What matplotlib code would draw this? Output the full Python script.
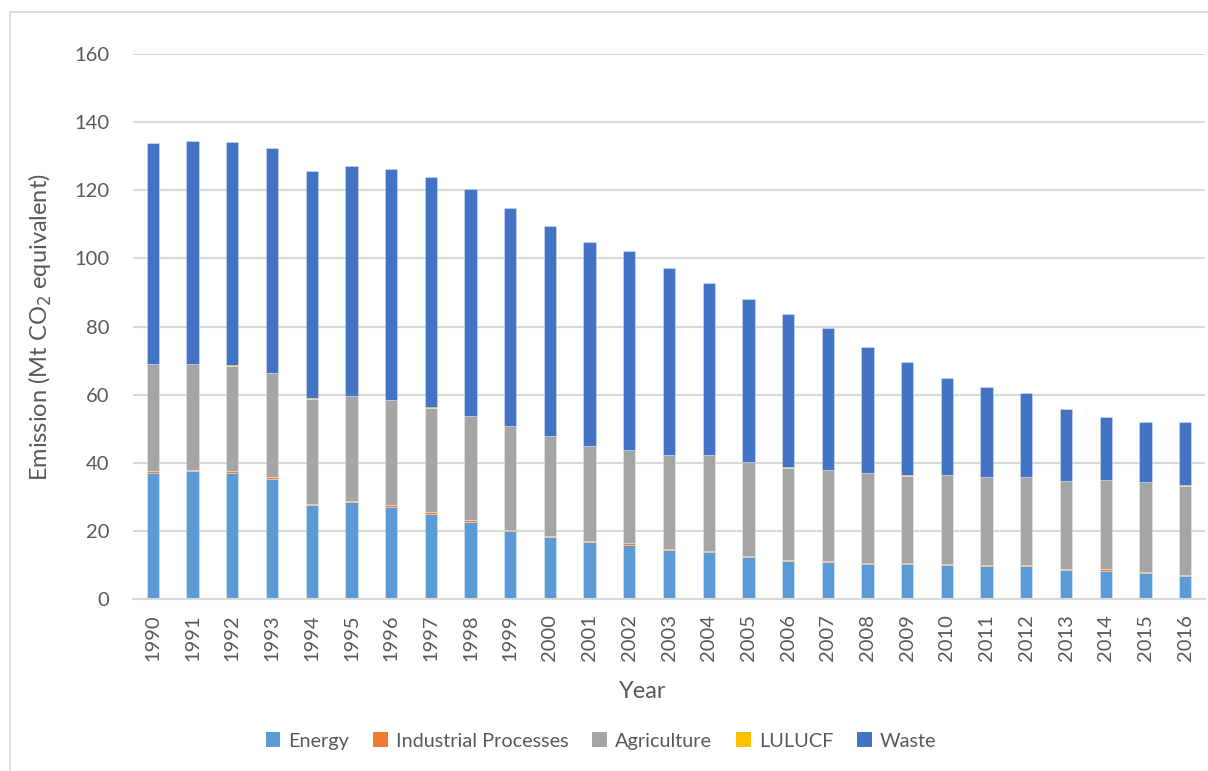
import matplotlib
matplotlib.use("Agg")
import matplotlib.pyplot as plt
import numpy as np
from matplotlib.patches import Rectangle, Patch

plt.rcParams['font.family'] = ['Lato', 'DejaVu Sans']

years = [str(y) for y in range(1990, 2017)]

energy = [37.1, 37.6, 37.1, 35.3, 27.6, 28.5, 27.1, 25.1, 22.7, 20.0,
          18.1, 16.8, 15.9, 14.4, 13.9, 12.2, 11.1, 10.9, 10.4, 10.3,
          10.0, 9.7, 9.6, 8.6, 8.3, 7.7, 6.8]
industrial = [0.4, 0.4, 0.4, 0.6, 0.4, 0.4, 0.6, 0.4, 0.4, 0.3,
              0.3, 0.3, 0.5, 0.3, 0.3, 0.3, 0.3, 0.3, 0.3, 0.3,
              0.3, 0.3, 0.3, 0.3, 0.5, 0.3, 0.3]
agriculture = [31.5, 31.0, 31.0, 30.4, 30.8, 30.7, 30.7, 30.7, 30.6, 30.5,
               29.4, 27.8, 27.2, 27.5, 28.0, 27.7, 27.2, 26.7, 26.2, 25.6,
               26.0, 25.7, 25.8, 25.7, 26.0, 26.3, 26.2]
lulucf = [0.1, 0.1, 0.1, 0.1, 0.3, 0.1, 0.1, 0.1, 0.1, 0.1,
          0.1, 0.1, 0.1, 0.1, 0.1, 0.1, 0.1, 0.1, 0.1, 0.3,
          0.1, 0.1, 0.1, 0.1, 0.1, 0.1, 0.1]
waste = [64.7, 65.5, 65.7, 66.1, 66.5, 67.4, 67.8, 67.7, 66.5, 63.9,
         61.7, 59.8, 58.6, 54.8, 50.5, 47.8, 44.9, 41.6, 37.0, 33.1,
         28.5, 26.5, 24.7, 21.2, 18.5, 17.5, 18.5]

series = [
    ("Energy", energy, "#5B9BD5"),
    ("Industrial Processes", industrial, "#ED7D31"),
    ("Agriculture", agriculture, "#A5A5A5"),
    ("LULUCF", lulucf, "#FFC000"),
    ("Waste", waste, "#4472C4"),
]

W, H = 1208, 771
fig = plt.figure(figsize=(W / 100, H / 100), dpi=100)
fig.patch.set_facecolor("white")

# chart-area frame
fig.patches.append(Rectangle((10 / W, -0.05), 1.1, 1 - 12 / H + 0.05,
                             transform=fig.transFigure, fill=False,
                             edgecolor="#d9d9d9", linewidth=1.3))

ax = fig.add_axes([133 / W, 1 - 599 / H, (1205 - 133) / W, (599 - 54) / H])

x = np.arange(len(years))
bottom = np.zeros(len(years))
for name, vals, color in series:
    vals = np.array(vals)
    ax.bar(x, vals, width=0.31, bottom=bottom, color=color,
           edgecolor=(1, 1, 1, 0.3), linewidth=0.7, label=name, zorder=3)
    bottom += vals

ax.set_xlim(-0.5, len(years) - 0.5)
ax.set_ylim(0, 160)
ax.set_yticks(np.arange(0, 161, 20))
ax.yaxis.grid(True, color="#d9d9d9", linewidth=1.5, zorder=0)
ax.set_axisbelow(True)
for s in ["top", "right", "left"]:
    ax.spines[s].set_visible(False)
ax.spines["bottom"].set_color("#d9d9d9")
ax.spines["bottom"].set_linewidth(1.5)
ax.spines["bottom"].set_zorder(4)

ax.set_xticks(x)
ax.set_xticklabels(years, rotation=90)
ax.tick_params(axis="both", length=0, labelcolor="#595959", labelsize=14.5)
ax.tick_params(axis="y", pad=17)
ax.tick_params(axis="x", pad=11)

fig.text(40 / W, 1 - 327 / H, "Emission (Mt CO$_2$ equivalent)", rotation=90,
         ha="center", va="center", fontsize=17, color="#595959")
fig.text(643 / W, 1 - 692 / H, "Year", ha="center", va="center",
         fontsize=17, color="#595959")

handles = [Patch(facecolor=c, edgecolor="none") for _, _, c in series]
labels = [n for n, _, _ in series]
fig.legend(handles, labels, loc="center", bbox_to_anchor=(601 / W, 1 - 741 / H),
           ncol=5, frameon=False, fontsize=14.3, labelcolor="#595959",
           handlelength=0.75, handleheight=0.75, handletextpad=0.4,
           columnspacing=1.2)

fig.savefig("out.png", dpi=100, facecolor="white")
